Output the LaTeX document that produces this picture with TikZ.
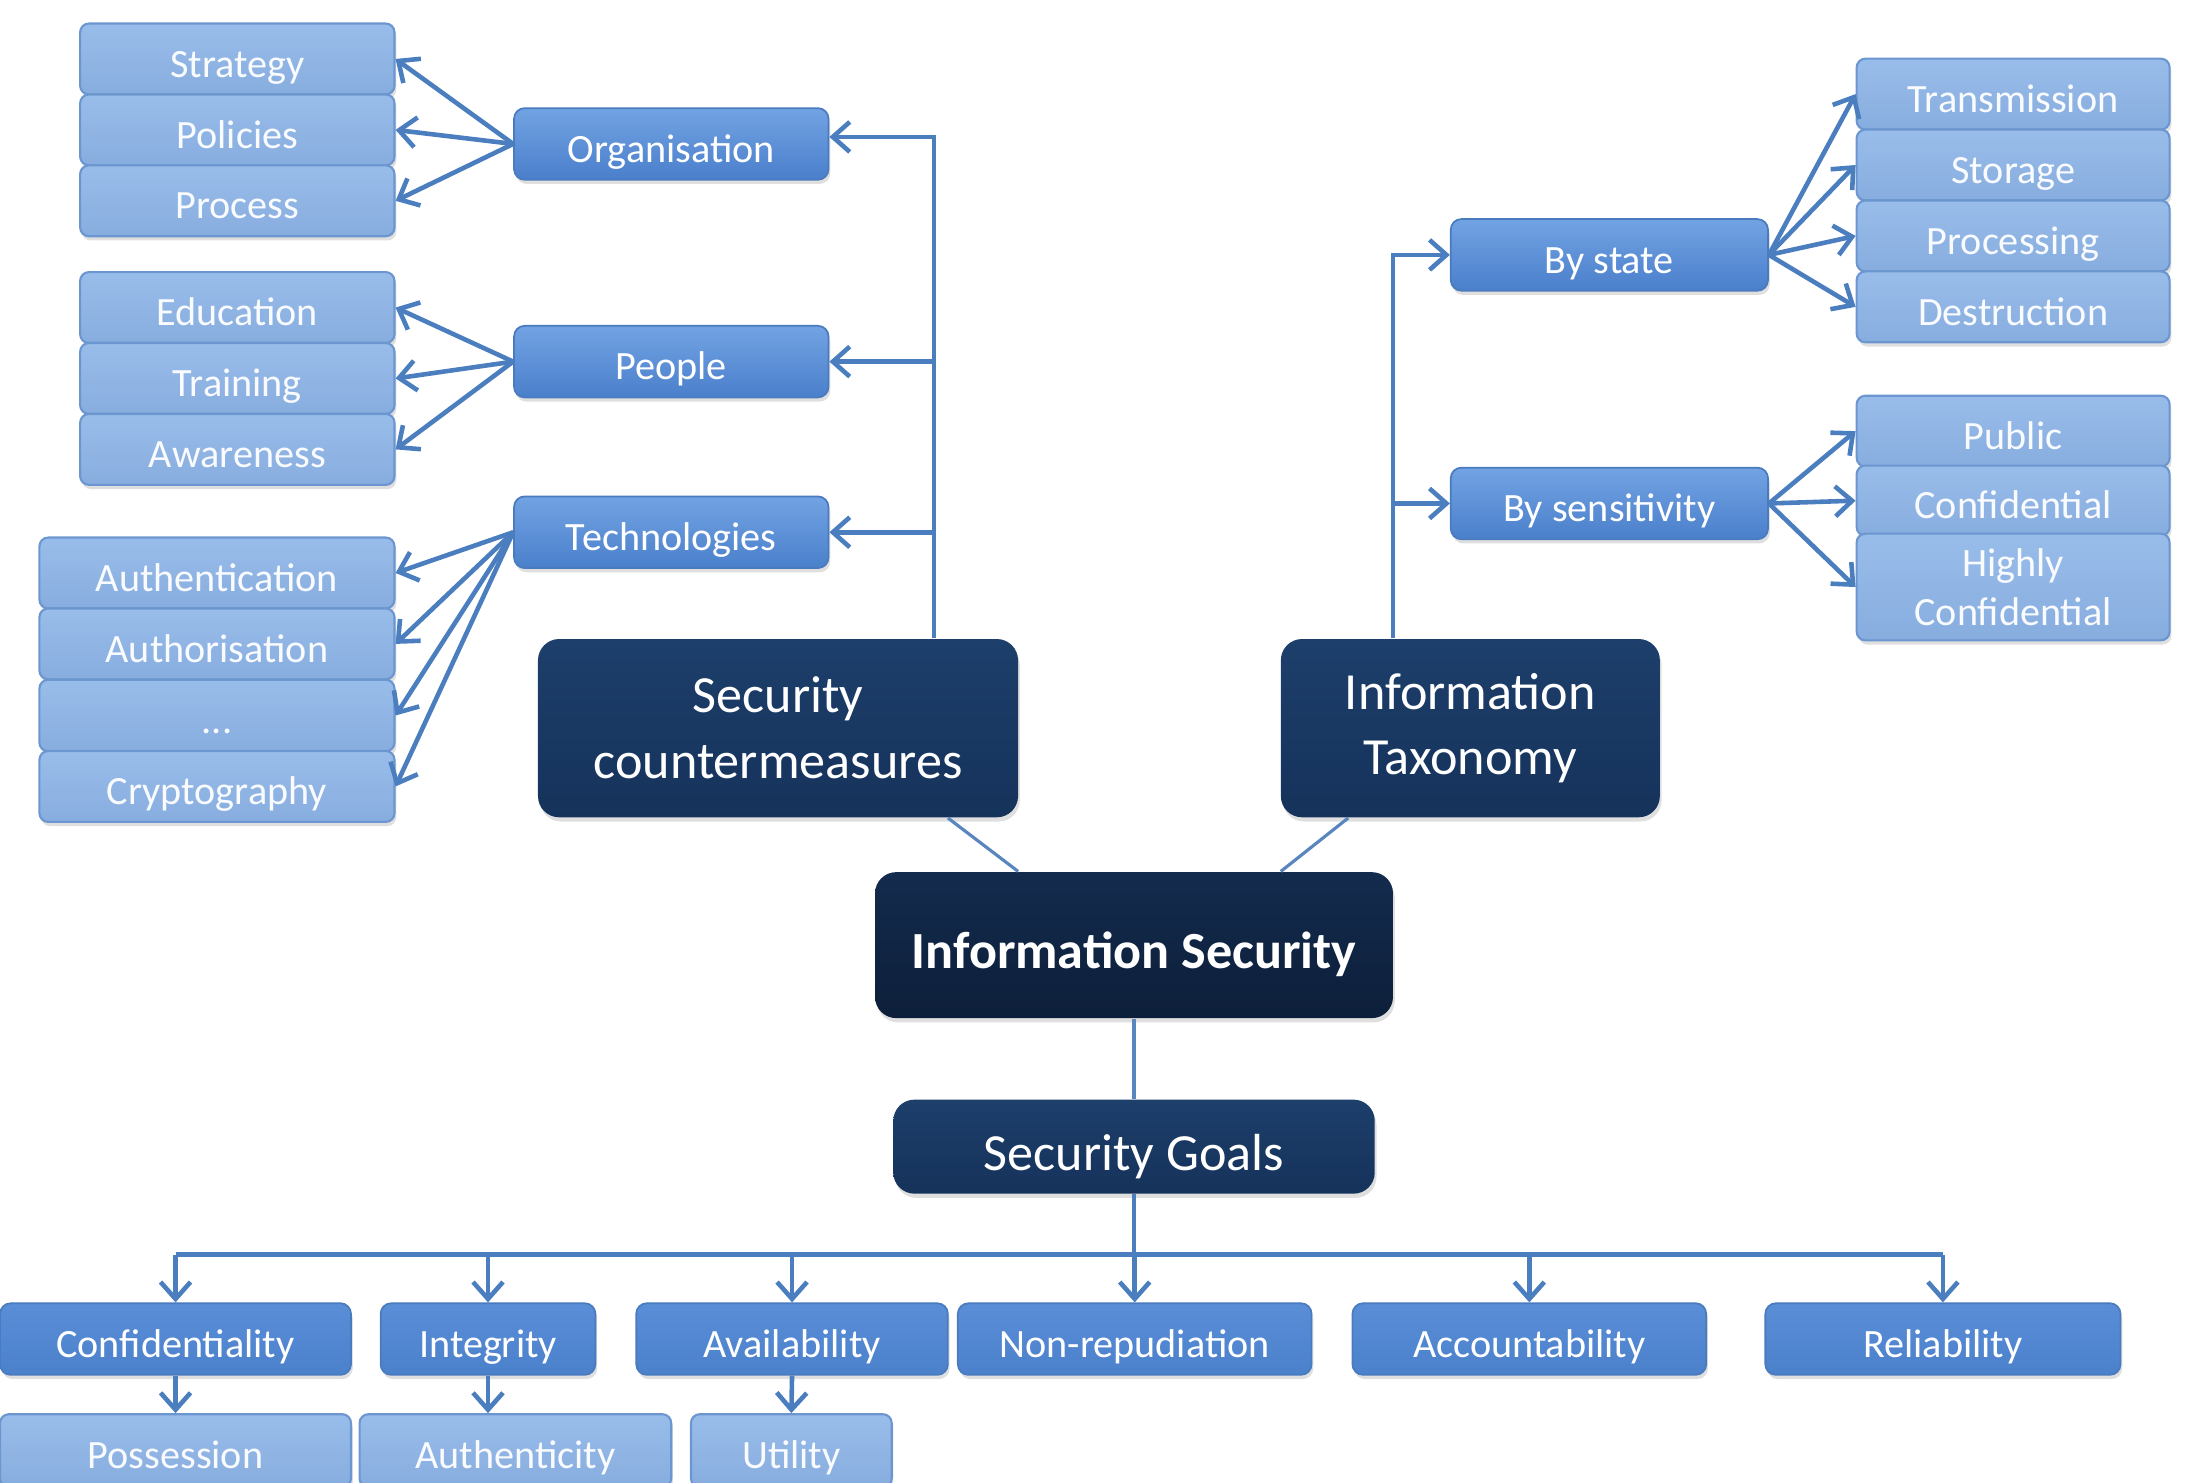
\documentclass[tikz,border=0pt]{standalone}
\usepackage{fontspec}
\setmainfont{Carlito}
\usetikzlibrary{arrows.meta,shadows,calc}

\definecolor{leafA}{HTML}{99BDEA}
\definecolor{leafB}{HTML}{87ADDF}
\definecolor{leafline}{HTML}{6B96CF}
\definecolor{midA}{HTML}{72A3E3}
\definecolor{midB}{HTML}{4A7FCB}
\definecolor{midline}{HTML}{4A7BBE}
\definecolor{goalA}{HTML}{5A8ED7}
\definecolor{goalB}{HTML}{4B80CB}
\definecolor{darkA}{HTML}{1D3F6B}
\definecolor{darkB}{HTML}{15325A}
\definecolor{coreA}{HTML}{132B4D}
\definecolor{coreB}{HTML}{0D1F3A}
\definecolor{wire}{HTML}{4A7EBE}
\definecolor{wirethin}{HTML}{5A86C0}

\newcommand\leaffont{\fontsize{11.4}{13.9}\selectfont}
\newcommand\titlefont{\fontsize{14.8}{18.7}\selectfont}

\tikzset{
  boxbase/.style={rectangle, inner sep=0pt, align=center, text=white,
    drop shadow={shadow xshift=0.5pt, shadow yshift=-1.2pt, opacity=0.25}},
  sz/.style 2 args={minimum width=#1cm, minimum height=#2cm},
  leafbase/.style={boxbase, rounded corners=2.5pt, draw=leafline, line width=0.6pt,
    top color=leafA, bottom color=leafB, font=\leaffont, text=white!94!leafA},
  leaf/.style={leafbase, text height=10.3pt, text depth=0pt},
  midbox/.style={boxbase, rounded corners=3pt, draw=midline, line width=0.5pt,
    top color=midA, bottom color=midB, font=\leaffont, text height=10.3pt, text depth=0pt},
  goalbox/.style={boxbase, rounded corners=3pt, draw=midline, line width=0.5pt,
    top color=goalA, bottom color=goalB, font=\leaffont, text height=10.3pt, text depth=0pt},
  darkbox/.style={boxbase, rounded corners=6pt, top color=darkA, bottom color=darkB,
    font=\titlefont},
  corebox/.style={boxbase, rounded corners=6pt, top color=coreA, bottom color=coreB,
    font=\titlefont\bfseries, text height=13.3pt, text depth=0pt},
  wireline/.style={draw=wire, line width=1.3pt},
  arr/.style={wireline, -{Straight Barb[length=4.8pt,width=8.5pt,line width=1.3pt]}},
  thinwire/.style={draw=wirethin, line width=0.9pt},
}

\begin{document}
\begin{tikzpicture}[x=0.014cm, y=-0.014cm]
\useasboundingbox (0,0) rectangle (1568,1056);
\clip (0,0) rectangle (1568,1056);

% --- countermeasures branch, sub-items
\node[leaf, sz={3.136}{0.707}] (strat) at (169,42)    {Strategy};
\node[leaf, sz={3.136}{0.707}] (pol)   at (169,92.5)  {Policies};
\node[leaf, sz={3.136}{0.707}] (proc)  at (169,143)   {Process};
\node[leaf, sz={3.136}{0.707}] (edu)   at (169,219)   {Education};
\node[leaf, sz={3.136}{0.707}] (train) at (169,269.5) {Training};
\node[leaf, sz={3.136}{0.707}] (aware) at (169,320)   {Awareness};
\node[leaf, sz={3.542}{0.707}] (authn) at (154.5,408)   {Authentication};
\node[leaf, sz={3.542}{0.707}] (authz) at (154.5,458.5) {Authorisation};
\node[leaf, sz={3.542}{0.714}] (dots)  at (154.5,509.5) {...};
\node[leaf, sz={3.542}{0.707}] (crypt) at (154.5,560)   {Cryptography};

% --- countermeasures branch, categories
\node[midbox, sz={3.136}{0.714}] (org)    at (478,102.5) {Organisation};
\node[midbox, sz={3.136}{0.714}] (people) at (478,257.5) {People};
\node[midbox, sz={3.136}{0.714}] (tech)   at (478,379)   {Technologies};

% --- central column
\node[darkbox, sz={4.788}{1.778}] (sc) at (554,518.5)  {Security\\countermeasures};
\node[darkbox, sz={3.78}{1.778}]  (it) at (1047,518.5) {Information\\Taxonomy};
\node[corebox, sz={5.166}{1.456}] (is) at (807.5,673)  {Information Security};
\node[darkbox, sz={4.802}{0.938}, text height=13.3pt, text depth=0pt] (sg) at (807.5,816.5) {Security Goals};

% --- taxonomy branch
\node[midbox, sz={3.164}{0.714}] (bystate) at (1146,181.5) {By state};
\node[midbox, sz={3.164}{0.714}] (bysens)  at (1146,358.5) {By sensitivity};
\node[leaf, sz={3.122}{0.707}] (trans) at (1433.5,67)    {Transmission};
\node[leaf, sz={3.122}{0.707}] (stor)  at (1433.5,117.5) {Storage};
\node[leaf, sz={3.122}{0.707}] (procg) at (1433.5,168)   {Processing};
\node[leaf, sz={3.122}{0.707}] (destr) at (1433.5,218.5) {Destruction};
\node[leaf, sz={3.122}{0.707}] (pub)   at (1433.5,307)   {Public};
\node[leaf, sz={3.122}{0.700}] (conf)  at (1433.5,356.5) {Confidential};
\node[leafbase, sz={3.122}{1.064}] (hconf) at (1433.5,418) {Highly\\Confidential};

% --- security goals
\node[goalbox, sz={3.5}{0.714}]   (g1) at (125,953.5)    {Confidentiality};
\node[goalbox, sz={2.142}{0.714}] (g2) at (347.5,953.5)  {Integrity};
\node[goalbox, sz={3.108}{0.714}] (g3) at (564,953.5)    {Availability};
\node[goalbox, sz={3.528}{0.714}] (g4) at (808,953.5)    {Non-repudiation};
\node[goalbox, sz={3.528}{0.714}] (g5) at (1089,953.5)   {Accountability};
\node[goalbox, sz={3.542}{0.714}] (g6) at (1383.5,953.5) {Reliability};
\node[leaf, sz={3.5}{0.728}]   (pos)  at (125,1033)   {Possession};
\node[leaf, sz={3.108}{0.728}] (auth) at (367,1033)   {Authenticity};
\node[leaf, sz={2.002}{0.728}] (util) at (563.5,1033) {Utility};

% --- connectors: countermeasures
\coordinate (tl) at ($(sc.north)+(111,0)$);
\draw[arr] (tl) |- ($(org.east)+(0,-5)$);
\draw[arr] (tl) |- (people.east);
\draw[arr] (tl) |- (tech.east);
\foreach \t in {strat,pol,proc} \draw[arr] (org.west) -- (\t.east);
\foreach \t in {edu,train,aware} \draw[arr] (people.west) -- (\t.east);
\foreach \t in {authn,authz,dots,crypt} \draw[arr] (tech.west) -- (\t.east);

% --- connectors: taxonomy
\coordinate (tr) at ($(it.north)+(-55,0)$);
\draw[arr] (tr) |- (bystate.west);
\draw[arr] (tr) |- (bysens.west);
\foreach \t in {trans,stor,procg,destr} \draw[arr] (bystate.east) -- (\t.west);
\foreach \t in {pub,conf,hconf} \draw[arr] (bysens.east) -- (\t.west);

% --- connectors: centre
\draw[thinwire] ($(sc.south)+(121,0)$) -- ($(is.north)+(-82.5,0)$);
\draw[thinwire] ($(it.south)+(-87,0)$) -- ($(is.north)+(104.5,0)$);
\draw[thinwire] (is.south) -- (sg.north);

% --- connectors: goals
\coordinate (bus) at ($(sg.south)+(0,43)$);
\draw[wireline] (sg.south) -- (bus);
\draw[wireline] (g1.north |- bus) -- (g6.north |- bus);
\foreach \g in {g1,g2,g3,g4,g5,g6} \draw[arr] (\g.north |- bus) -- (\g.north);
\draw[arr] (g1.south) -- (pos.north);
\draw[arr] (g2.south) -- (g2.south |- auth.north);
\draw[arr] (g3.south) -- (util.north);
\end{tikzpicture}
\end{document}
